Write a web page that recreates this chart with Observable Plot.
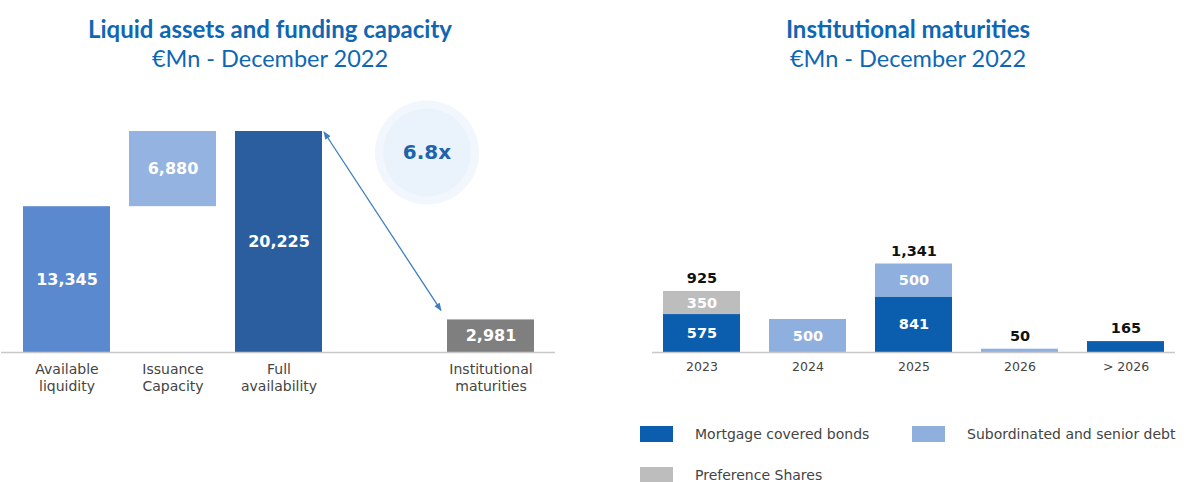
<!DOCTYPE html>
<html><head><meta charset="utf-8">
<script src="https://cdn.jsdelivr.net/npm/d3@7"></script>
<script src="https://cdn.jsdelivr.net/npm/@observablehq/plot@0.6"></script>
<style>
body{margin:0;background:#fff;width:1186px;height:482px;overflow:hidden;position:relative;font-family:"DejaVu Sans",sans-serif}
.title{position:absolute;text-align:center;color:#0f67b4;font-family:Lato,sans-serif}
.title .t{font-weight:700;font-size:24px;line-height:28px}
.title .s{font-size:23.5px;line-height:28px;margin-top:1px}
#left{position:absolute;left:0;top:90px}
#right{position:absolute;left:640px;top:90px}
#legend{position:absolute;left:640px;top:426px;display:grid;grid-template-columns:272px auto;row-gap:25px;font-size:14px;color:#444}
#legend .item{display:flex;align-items:center;height:16px;white-space:nowrap}
#legend .sw{width:33px;height:16px;margin-right:22px;flex:none}
</style>
</head><body>
<div class="title" style="left:0;top:15px;width:540px"><div class="t">Liquid assets and funding capacity</div><div class="s">€Mn - December 2022</div></div>
<div class="title" style="left:640px;top:15px;width:536px"><div class="t">Institutional maturities</div><div class="s">€Mn - December 2022</div></div>
<div id="left"></div>
<div id="right"></div>
<div id="legend"></div>
<script>
// ---- Left chart data ----
const leftCategories = ["Available liquidity", "Issuance Capacity", "Full availability", "Institutional maturities"];
const leftTickLabels = ["Available\nliquidity", "Issuance\nCapacity", "Full\navailability", "Institutional\nmaturities"];
const leftValues = [13345, 6880, 20225, 2981];
const leftColors = ["#5b89cf", "#94b3e0", "#2a5e9f", "#7f7f7f"];
const coverageLabel = "6.8x";

// ---- Right chart data ----
const years = ["2023", "2024", "2025", "2026", "> 2026"];
const seriesNames = ["Mortgage covered bonds", "Subordinated and senior debt", "Preference Shares"];
const seriesColors = ["#0b5dad", "#8fb0df", "#bdbdbd"];
const mortgage = [575, 0, 841, 0, 165];
const subordinated = [0, 500, 500, 50, 0];
const preference = [350, 0, 0, 0, 0];

const fmt = d3.format(",");

// ---- Left chart ----
const gap = " ";
const leftDomain = [leftCategories[0], leftCategories[1], leftCategories[2], gap, leftCategories[3]];
const labelOf = new Map(leftCategories.map((c, i) => [c, leftTickLabels[i]]));
labelOf.set(gap, "");
const leftRows = leftCategories.map((c, i) => {
  const base = c === "Issuance Capacity" ? leftValues[0] : 0;
  return {cat: c, y1: base, y2: base + leftValues[i], value: leftValues[i], color: leftColors[i]};
});
const fullRow = leftRows[2], instRow = leftRows[3];

const left = Plot.plot({
  width: 560, height: 310,
  marginLeft: 1, marginRight: 5, marginTop: 41, marginBottom: 48,
  style: {fontFamily: "DejaVu Sans, sans-serif", background: "transparent"},
  x: {domain: leftDomain, padding: 0.18},
  y: {domain: [0, 20225], axis: null},
  marks: [
    Plot.dot([{cat: gap, y: fullRow.value}], {x: "cat", y: "y", dx: 42, dy: 21, r: 52, fill: "#f2f7fd"}),
    Plot.dot([{cat: gap, y: fullRow.value}], {x: "cat", y: "y", dx: 42, dy: 21, r: 44, fill: "#eaf3fc"}),
    Plot.text([{cat: gap, y: fullRow.value, t: coverageLabel}], {x: "cat", y: "y", dx: 42, dy: 21, text: "t", fill: "#1f63aa", fontSize: 20, fontWeight: "bold"}),
    Plot.barY(leftRows, {x: "cat", y1: "y1", y2: "y2", fill: "color"}),
    Plot.ruleY([0], {stroke: "#c8c8c8", strokeWidth: 1.5}),
    Plot.text(leftRows, {x: "cat", y: d => (d.y1 + d.y2) / 2, text: d => fmt(d.value), fill: "white", fontSize: 16, fontWeight: "bold"}),
    Plot.axisX({tickSize: 0, tickPadding: 10, fontSize: 14, fill: "#444", tickFormat: d => labelOf.get(d), label: null, lineHeight: 1.2})
  ]
});
document.getElementById("left").appendChild(left);

// double-headed arrow between full availability and maturities, positioned with Plot's scales
{
  const xs = left.scale("x"), ys = left.scale("y");
  const bw = xs.bandwidth;
  const x1 = xs.apply(fullRow.cat) + bw + 2, y1p = ys.apply(fullRow.y2) + 1;
  const x2 = xs.apply(instRow.cat) - 6, y2p = ys.apply(instRow.y2) - 9;
  const svg = d3.select(left);
  svg.append("defs").append("marker").attr("id", "ah").attr("viewBox", "0 -4 10 8")
    .attr("refX", 9).attr("refY", 0).attr("markerWidth", 8).attr("markerHeight", 7)
    .attr("markerUnits", "userSpaceOnUse").attr("orient", "auto-start-reverse")
    .append("path").attr("d", "M0,-4L10,0L0,4Z").attr("fill", "#3e7fbf");
  svg.append("line").attr("x1", x1).attr("y1", y1p).attr("x2", x2).attr("y2", y2p)
    .attr("stroke", "#3e7fbf").attr("stroke-width", 1.3)
    .attr("marker-start", "url(#ah)").attr("marker-end", "url(#ah)");
}

// ---- Right chart ----
const seriesValues = [mortgage, subordinated, preference];
const rows = [];
const totals = [];
years.forEach((yr, i) => {
  let acc = 0, n = 0;
  seriesValues.forEach((vals, s) => {
    const v = vals[i];
    if (v > 0) {
      rows.push({year: yr, series: seriesNames[s], y1: acc, y2: acc + v, value: v});
      acc += v; n++;
    }
  });
  totals.push({year: yr, total: acc, show: n > 1 || acc < 300});
});

const right = Plot.plot({
  width: 546, height: 300,
  marginLeft: 12, marginRight: 11, marginTop: 64, marginBottom: 38,
  style: {fontFamily: "DejaVu Sans, sans-serif", background: "transparent"},
  x: {domain: years, paddingInner: 0.27, paddingOuter: 0.1},
  y: {domain: [0, 3000], axis: null},
  color: {domain: seriesNames, range: seriesColors},
  marks: [
    Plot.barY(rows, {x: "year", y1: "y1", y2: "y2", fill: "series"}),
    Plot.ruleY([0], {stroke: "#c8c8c8", strokeWidth: 1.5}),
    Plot.text(rows.filter(d => d.value >= 300), {x: "year", y: d => (d.y1 + d.y2) / 2, text: d => fmt(d.value), fill: "white", fontSize: 14.5, fontWeight: "bold"}),
    Plot.text(totals.filter(d => d.show), {x: "year", y: "total", text: d => fmt(d.total), dy: -13, fill: "#111", fontSize: 14.5, fontWeight: "bold"}),
    Plot.axisX({tickSize: 0, tickPadding: 10, fontSize: 12.5, fill: "#444", label: null})
  ]
});
document.getElementById("right").appendChild(right);

// ---- Legend ----
const legend = document.getElementById("legend");
seriesNames.forEach((name, i) => {
  const item = document.createElement("div");
  item.className = "item";
  item.innerHTML = `<span class="sw" style="background:${seriesColors[i]}"></span><span>${name}</span>`;
  legend.appendChild(item);
});
</script>
</body></html>
